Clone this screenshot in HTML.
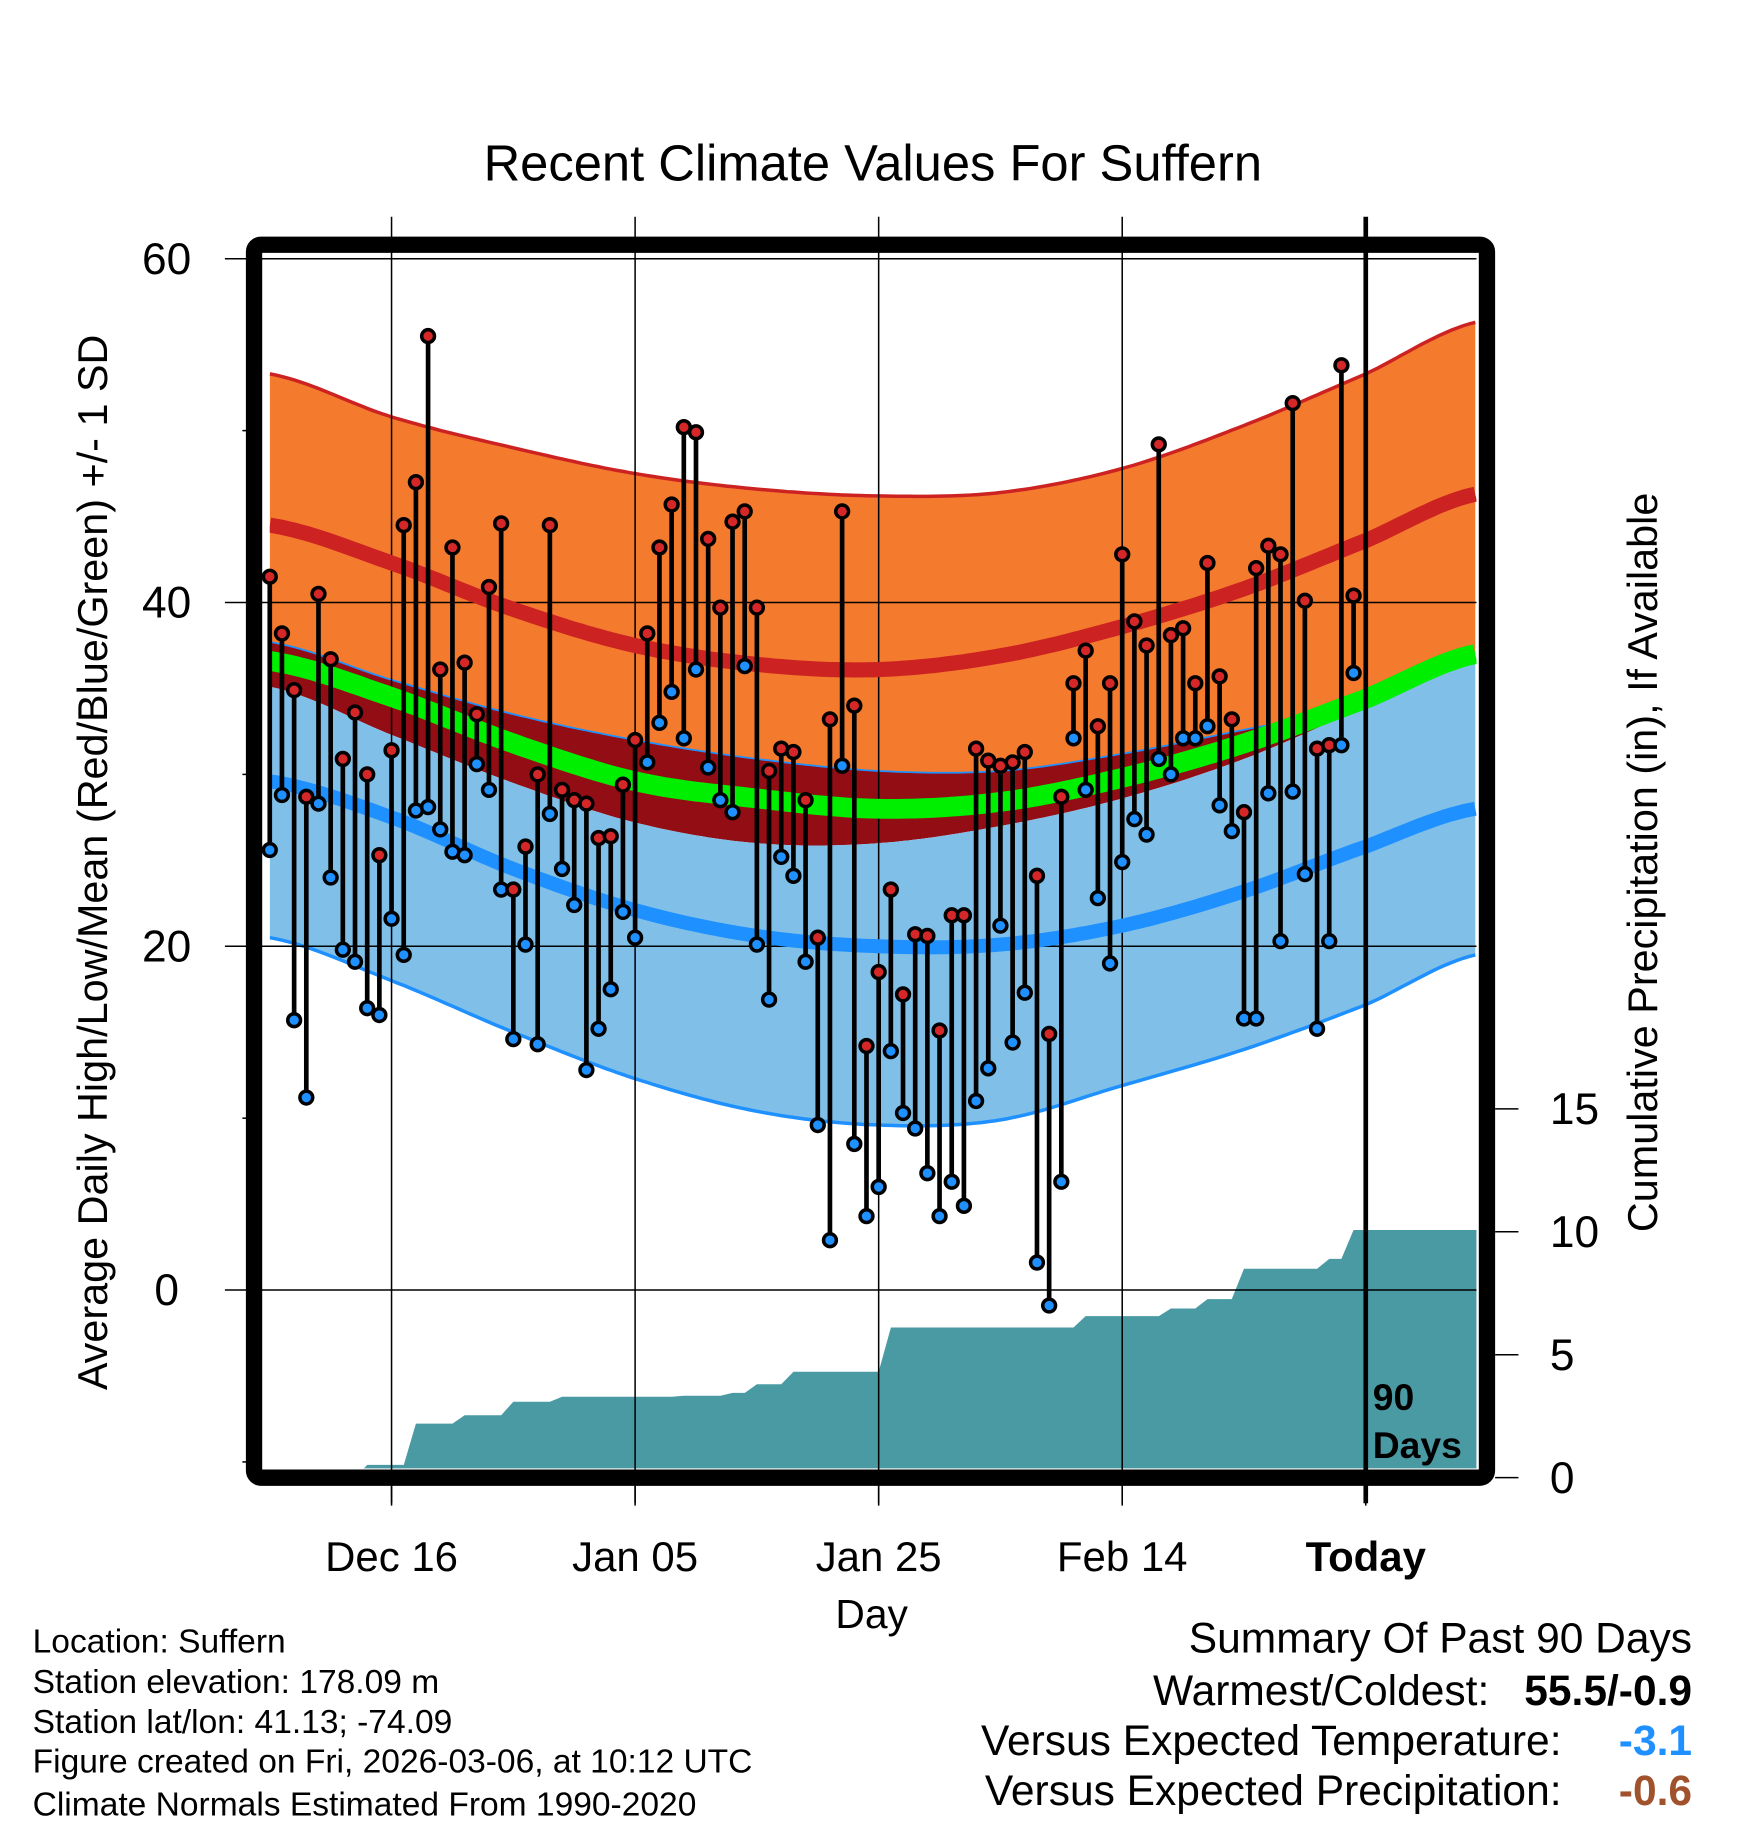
<!DOCTYPE html>
<html><head><meta charset="utf-8"><style>
html,body{margin:0;padding:0;background:#fff}
svg{display:block}
text{font-family:"Liberation Sans",Arial,sans-serif;fill:#000}
</style></head><body>
<svg id="chart" width="1748" height="1828" viewBox="0 0 1500 1568.6" xmlns="http://www.w3.org/2000/svg">
<g id="bands"></g>
<g id="precip"></g>
<g id="grid"></g>
<g id="lines"></g>
<g id="marks"></g>
<g id="axes"></g>
<text x="749" y="155" font-size="43.5" text-anchor="middle">Recent Climate Values For Suffern</text>
<text transform="translate(92,740) rotate(-90)" font-size="35.5" text-anchor="middle">Average Daily High/Low/Mean (Red/Blue/Green) +/- 1 SD</text>
<text transform="translate(1422,740) rotate(-90)" font-size="35.5" text-anchor="middle">Cumulative Precipitation (in), If Available</text>
<text x="748" y="1397" font-size="35" text-anchor="middle">Day</text>
<text x="1178" y="1210" font-size="32" font-weight="bold">90</text>
<text x="1178" y="1251" font-size="32" font-weight="bold">Days</text>
<g font-size="28.8">
<text x="28" y="1418">Location: Suffern</text>
<text x="28" y="1453">Station elevation: 178.09 m</text>
<text x="28" y="1487">Station lat/lon: 41.13; -74.09</text>
<text x="28" y="1521">Figure created on Fri, 2026-03-06, at 10:12 UTC</text>
<text x="28" y="1558">Climate Normals Estimated From 1990-2020</text>
</g>
<g font-size="36.5">
<text x="1452" y="1418" text-anchor="end">Summary Of Past 90 Days</text>
<text x="1278" y="1463" text-anchor="end">Warmest/Coldest:</text>
<text x="1452" y="1463" text-anchor="end" font-weight="bold">55.5/-0.9</text>
<text x="1340" y="1506" text-anchor="end">Versus Expected Temperature:</text>
<text x="1452" y="1506" text-anchor="end" font-weight="bold" style="fill:#1e90ff">-3.1</text>
<text x="1340" y="1549" text-anchor="end">Versus Expected Precipitation:</text>
<text x="1452" y="1549" text-anchor="end" font-weight="bold" style="fill:#a0522d">-0.6</text>
</g>
</svg>
<script>
// normals sampled every 10 days
const normDays = [-90,-80,-70,-60,-50,-40,-30,-20,-10,0,9];
const highTop  = [53.3,50.8,49.0,47.5,46.6,46.2,46.4,47.8,50.3,53.3,56.3];
const highMean = [44.5,42.3,39.6,37.5,36.4,36.1,36.9,38.6,40.8,43.6,46.3];
const highBot  = [37.7,35.5,33.5,32.0,30.9,30.2,30.2,31.2,32.6,34.0,36.5];
const meanAvg  = [36.6,34.5,31.8,29.6,28.6,28.0,28.4,29.8,31.8,34.4,37.0];
const lowTop   = [35.1,32.3,29.5,27.2,26.0,26.0,27.0,28.6,30.9,33.9,36.5];
const lowMean  = [29.6,27.5,24.5,22.1,20.6,20.0,20.1,21.2,23.2,25.8,28.0];
const lowBot   = [20.5,18.0,15.0,12.3,10.4,9.6,9.9,11.9,14.0,16.6,19.5];
// daily observations, day -90 .. -1
const highs = [41.5,38.2,34.9,28.7,40.5,36.7,30.9,33.6,30.0,25.3,31.4,44.5,47.0,55.5,36.1,43.2,36.5,33.5,40.9,44.6,
23.3,25.8,30.0,44.5,29.1,28.5,28.3,26.3,26.4,29.4,32.0,38.2,43.2,45.7,50.2,49.9,43.7,39.7,44.7,45.3,
39.7,30.2,31.5,31.3,28.5,20.5,33.2,45.3,34.0,14.2,18.5,23.3,17.2,20.7,20.6,15.1,21.8,21.8,31.5,30.8,
30.5,30.7,31.3,24.1,14.9,28.7,35.3,37.2,32.8,35.3,42.8,38.9,37.5,49.2,38.1,38.5,35.3,42.3,35.7,33.2,
27.8,42.0,43.3,42.8,51.6,40.1,31.5,31.7,53.8,40.4];
const lows = [25.6,28.8,15.7,11.2,28.3,24.0,19.8,19.1,16.4,16.0,21.6,19.5,27.9,28.1,26.8,25.5,25.3,30.6,29.1,23.3,
14.6,20.1,14.3,27.7,24.5,22.4,12.8,15.2,17.5,22.0,20.5,30.7,33.0,34.8,32.1,36.1,30.4,28.5,27.8,36.3,
20.1,16.9,25.2,24.1,19.1,9.6,2.9,30.5,8.5,4.3,6.0,13.9,10.3,9.4,6.8,4.3,6.3,4.9,11.0,12.9,
21.2,14.4,17.3,1.6,-0.9,6.3,32.1,29.1,22.8,19.0,24.9,27.4,26.5,30.9,30.0,32.1,32.1,32.8,28.2,26.7,
15.8,15.8,28.9,20.3,29.0,24.2,15.2,20.3,31.7,35.9];
// daily precipitation (in), day -90 .. -1
const precipDaily = [0,0,0,0,0,0,0,0,0.52,0,0,0,1.68,0,0,0,0.34,0,0,0,
0.55,0,0,0,0.2,0,0,0,0,0,0,0,0,0,0.04,0,0,0,0.12,0,
0.35,0,0,0.51,0,0,0,0,0,0,0,1.8,0,0,0,0,0,0,0,0,
0,0,0,0,0,0,0,0.46,0,0,0,0,0,0,0.31,0,0,0.38,0,0,
1.24,0,0,0,0,0,0,0.4,0,1.17];
const yTicks=[60,40,20,0];
const yMinor=[50,30,10,-10];
const pTicks=[0,5,10,15];
const xTickDays=[-80,-60,-40,-20,0];
const xTickLabels=["Dec 16","Jan 05","Jan 25","Feb 14","Today"];

const NS="http://www.w3.org/2000/svg";
const X0=231.5, X1=1267, Y0=218, Y1=1260;
const xs=d=>1172+d*10.45;
const ys=v=>1107-v*14.75;
const yp=p=>1268-p*21.1;
function mk(tag,attrs,parent){const e=document.createElementNS(NS,tag);for(const k in attrs)e.setAttribute(k,attrs[k]);parent.appendChild(e);return e;}
function interp(arr,d){
  let i=0;while(i<normDays.length-2&&d>normDays[i+1])i++;
  const p0=arr[Math.max(i-1,0)],p1=arr[i],p2=arr[i+1],p3=arr[Math.min(i+2,arr.length-1)];
  const t=(d-normDays[i])/(normDays[i+1]-normDays[i]);
  return 0.5*((2*p1)+(-p0+p2)*t+(2*p0-5*p1+4*p2-p3)*t*t+(-p0+3*p1-3*p2+p3)*t*t*t);
}
function curvePts(arr){const pts=[];for(let d=-90;d<=9.05;d+=0.5){pts.push([xs(d),ys(interp(arr,d))]);}return pts;}
function bandPath(a,b){const A=curvePts(a),B=curvePts(b).reverse();return "M"+A.concat(B).map(p=>p[0].toFixed(1)+","+p[1].toFixed(1)).join("L")+"Z";}
function linePath(a){return "M"+curvePts(a).map(p=>p[0].toFixed(1)+","+p[1].toFixed(1)).join("L");}
const bands=document.getElementById('bands');
let e;
e=mk('clipPath',{id:'plotclip'},bands);mk('rect',{x:X0,y:Y0,width:X1-X0,height:Y1-Y0},e);
const bg=mk('g',{'clip-path':'url(#plotclip)'},bands);
e=mk('path',{d:bandPath(highBot,lowTop),fill:'#920d14'},bg);


e=mk('path',{d:bandPath(lowTop,lowBot),fill:'#80c0e8'},bg);


e=mk('path',{d:bandPath(highTop,highBot),fill:'#f47a2e'},bg);


e=mk('path',{d:linePath(highTop),fill:'none',stroke:'#cc2222','stroke-width':3},bg);


e=mk('path',{d:linePath(highBot),fill:'none',stroke:'#1e90ff','stroke-width':1.5},bg);


e=mk('path',{d:linePath(lowBot),fill:'none',stroke:'#1e90ff','stroke-width':3},bg);



// precipitation
const pg=document.getElementById('precip');
let cum=0;const pp=[[xs(-90),yp(0)]];
precipDaily.forEach((v,i)=>{const d=-90+i;pp.push([xs(d-1),yp(cum)]);cum+=v;pp.push([xs(d),yp(cum)]);});
pp.push([X1,yp(cum)]);pp.push([X1,yp(0)]);
e=mk('path',{d:"M"+pp.map(p=>p[0].toFixed(1)+","+p[1].toFixed(1)).join("L")+"Z",fill:'#4a9aa4'},pg);
e.setAttribute('clip-path','url(#plotclip)');



// grid
const g=document.getElementById('grid');
xTickDays.forEach(d=>{if(d!==0){e=mk('line',{x1:xs(d),x2:xs(d),y1:186,y2:1290,stroke:'#000','stroke-width':1.3},g);

}});
yTicks.forEach(v=>{e=mk('line',{x1:193,x2:X1,y1:ys(v),y2:ys(v),stroke:'#000','stroke-width':1.3},g);

});
yMinor.forEach(v=>{e=mk('line',{x1:208,x2:218,y1:ys(v),y2:ys(v),stroke:'#000','stroke-width':1.3},g);

});

// normal lines
const lg=mk('g',{'clip-path':'url(#plotclip)'},document.getElementById('lines'));
e=mk('path',{d:linePath(meanAvg),fill:'none',stroke:'#00ee00','stroke-width':17},lg);


e=mk('path',{d:linePath(highMean),fill:'none',stroke:'#cc2222','stroke-width':13},lg);


e=mk('path',{d:linePath(lowMean),fill:'none',stroke:'#1e90ff','stroke-width':12},lg);



// marks
const m=document.getElementById('marks');
highs.forEach((h,i)=>{const x=xs(-90+i);
  e=mk('line',{x1:x,x2:x,y1:ys(h),y2:ys(lows[i]),stroke:'#000','stroke-width':4},m);
  
  });
highs.forEach((h,i)=>{const x=xs(-90+i);
  e=mk('circle',{cx:x,cy:ys(lows[i]),r:5.5,fill:'#1e90ff',stroke:'#000','stroke-width':3},m);
  
  
  e=mk('circle',{cx:x,cy:ys(h),r:5.5,fill:'#d62728',stroke:'#000','stroke-width':3},m);
  
  });

// axes / frame
const ax=document.getElementById('axes');
e=mk('line',{x1:xs(0),x2:xs(0),y1:186,y2:1290,stroke:'#000','stroke-width':4},ax);


e=mk('rect',{x:218,y:210,width:1058,height:1058,rx:6,fill:'none',stroke:'#000','stroke-width':14},ax);


yTicks.forEach(v=>{e=mk('text',{x:143,y:ys(v)+13,'font-size':38,'text-anchor':'middle'},ax);e.textContent=String(v);

});
pTicks.forEach(p=>{e=mk('line',{x1:1283,x2:1303,y1:yp(p),y2:yp(p),stroke:'#000','stroke-width':1.3},ax);


e=mk('text',{x:1330,y:yp(p)+13,'font-size':38},ax);e.textContent=String(p);

});
xTickDays.forEach((d,i)=>{e=mk('line',{x1:xs(d),x2:xs(d),y1:1275,y2:1292,stroke:'#000','stroke-width':1.3},ax);


e=mk('text',{x:xs(d),y:1348,'font-size':36,'text-anchor':'middle'},ax);e.textContent=xTickLabels[i];
if(i===4)e.setAttribute('font-weight','bold');

});
</script>
</body></html>
